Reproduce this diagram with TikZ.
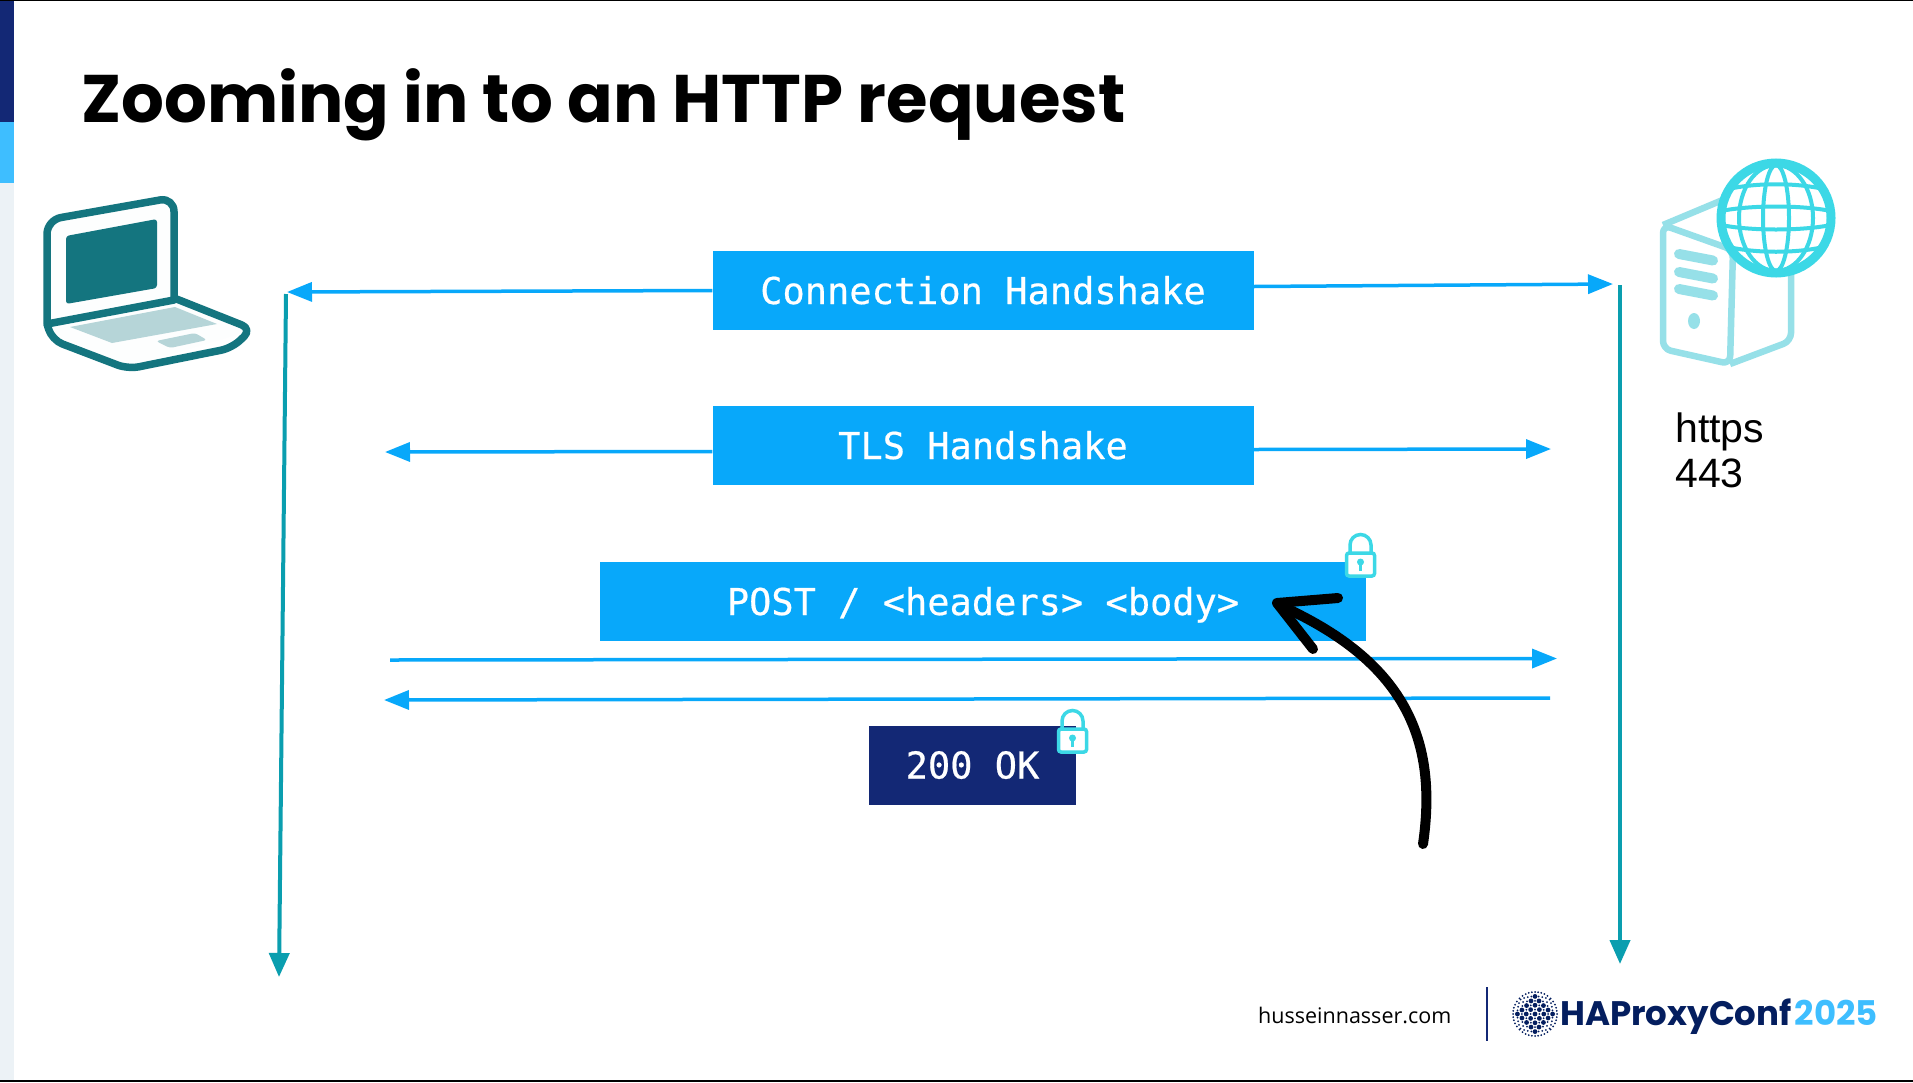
\documentclass[tikz,border=0pt]{standalone}
\usepackage{fontspec}
\usetikzlibrary{arrows.meta}
\setmainfont{Open Sans}
\newfontfamily\titlefont{Poppins}
\newfontfamily\monofont[FakeBold=0.5]{DejaVu Sans Mono}
\newfontfamily\plainfont{Liberation Sans}
\definecolor{hp_navy}{RGB}{19, 40, 117}
\definecolor{hp_dark}{RGB}{4, 30, 95}
\definecolor{hp_sky}{RGB}{62, 190, 255}
\definecolor{hp_pale}{RGB}{236, 242, 246}
\definecolor{hp_blue}{RGB}{8, 168, 250}
\definecolor{hp_teal}{RGB}{10, 158, 175}
\definecolor{hp_laptop}{RGB}{20, 117, 127}
\definecolor{hp_keys}{RGB}{182, 213, 216}
\definecolor{hp_cyan}{RGB}{60, 216, 230}
\definecolor{hp_server}{RGB}{150, 224, 232}
\tikzstyle{box}=[rectangle,fill=hp_blue,text=white,inner sep=0pt,minimum height=79pt,
  text height=27pt,text depth=0pt,font=\monofont\fontsize{37}{40}\selectfont]
\tikzstyle{label}=[anchor=base west,inner sep=0pt]
\tikzstyle{req}=[draw=hp_blue,line width=3.5pt,-{Triangle[length=25pt,width=19pt]}]
\tikzstyle{time}=[draw=hp_teal,line width=4pt,-{Triangle[length=24pt,width=20pt]}]
\tikzstyle{bigarrow}=[draw=black,line width=10pt,line cap=round,line join=round]
\tikzstyle{lockbody}=[draw=hp_cyan,fill=white,line width=3.5pt,rounded corners=2.5pt]
\begin{document}
\begin{tikzpicture}[x=1pt, y=-1pt]
    \useasboundingbox (0, 0) rectangle (1913, 1082);
    \fill [white] (0, 0) rectangle (1913, 1082);
    % slide frame
    \fill [hp_pale] (0, 183) rectangle (14, 1082);
    \fill [hp_navy] (0, 0) rectangle (14, 122);
    \fill [hp_sky] (0, 122) rectangle (14, 183);
    \draw [black, line width=1.5pt] (0, 0.5) -- (1913, 0.5);
    \draw [black, line width=1.5pt] (0, 1081) -- (1913, 1081);
    \node [style=label] (title) at (81, 122) {\titlefont\bfseries\fontsize{67.3}{72}\selectfont Zooming in to an HTTP request};

    % laptop
    \fill [white!97!hp_keys] (47, 324) -- (177, 298) -- (246, 332) -- (130, 366) -- (55, 340) -- cycle;
    \draw [hp_laptop, line width=7.5pt, line join=round, fill=white!97!hp_keys]
      (47, 324) [rounded corners=14pt] -- (47, 220) -- (174, 197.5) [sharp corners] -- (174, 300) -- cycle;
    \draw [hp_laptop, line width=7.5pt, line join=round, rounded corners=11pt]
      (47, 324) -- (52, 340) -- (128, 369) -- (232, 348) -- (252, 329) -- (174, 298);
    \fill [hp_laptop, rounded corners=3pt] (66, 236) -- (157, 219) -- (157, 288) -- (66, 304) -- cycle;
    \fill [hp_keys] (70, 327) -- (175, 307) -- (217, 324) -- (112, 343) -- cycle;
    \fill [hp_keys, rounded corners=3pt] (156, 341) -- (195, 333) -- (207, 340) -- (170, 348) -- cycle;

    % server
    \draw [hp_server, line width=6.5pt, line join=round, rounded corners=8pt]
      (1663, 225) -- (1663, 349) -- (1730, 364) -- (1733, 250) -- cycle;
    \draw [hp_server, line width=6.5pt, line join=round, rounded corners=8pt]
      (1730, 364) -- (1791, 341) -- (1791, 270);
    \draw [hp_server, line width=6.5pt, line join=round] (1663, 225) -- (1725, 199);
    \foreach \ventY in {254, 272, 289}
      \draw [hp_server, line width=10pt, line cap=round] (1679, \ventY) -- (1713, \ventY + 6.5);
    \fill [hp_server] (1694, 321) ellipse (6 and 8);

    % globe
    \begin{scope}[shift={(1776, 218)}]
      \fill [white] (0, 0) circle (58);
      \draw [hp_cyan, line width=4pt] (0, 0) ellipse (13 and 53);
      \draw [hp_cyan, line width=4pt] (0, 0) ellipse (37 and 53);
      \begin{scope}
        \clip (0, 0) circle (54);
        \foreach \latA/\latB in {-27/-36, -7/-13, 7/13, 27/36}
          \draw [hp_cyan, line width=4pt] (-55, \latA) .. controls (-25, \latB) and (25, \latB) .. (55, \latA);
      \end{scope}
      \draw [hp_cyan, line width=9pt] (0, 0) circle (55);
    \end{scope}

    % boxes
    \node [style=box, minimum width=541pt] (conn) at (983, 290.5) {Connection Handshake};
    \node [style=box, minimum width=541pt] (tls) at (983, 445.5) {TLS Handshake};
    \node [style=box, minimum width=766pt] (post) at (983, 601.5) {POST / <headers> <body>};
    \node [style=box, minimum width=207pt, fill=hp_navy] (ok) at (972.5, 765) {200 OK};

    % ends of the arrows
    \coordinate (connL) at (287, 292);
    \coordinate (connR) at (1613, 284);
    \coordinate (tlsL) at (385, 452);
    \coordinate (tlsR) at (1551, 449);
    \coordinate (postA) at (390, 660);
    \coordinate (postB) at (1557, 658.5);
    \coordinate (okA) at (1550, 698);
    \coordinate (okB) at (384, 700);
    \coordinate (clientA) at (286, 294);
    \coordinate (clientB) at (279, 977);
    \coordinate (serverA) at (1620, 285);
    \coordinate (serverB) at (1620, 964);

    \draw [style=req] (conn.west) to (connL);
    \draw [style=req] ([yshift=4pt]conn.east) to (connR);
    \draw [style=req] ([yshift=-6pt]tls.west) to (tlsL);
    \draw [style=req] ([yshift=-4pt]tls.east) to (tlsR);
    \draw [style=req] (postA) to (postB);
    \draw [style=req] (okA) to (okB);
    \draw [style=time] (clientA) to (clientB);
    \draw [style=time] (serverA) to (serverB);

    % locks
    \foreach \lockX/\lockY in {1360.5/533, 1072.5/709} {
      \begin{scope}[shift={(\lockX, \lockY)}]
        \draw [hp_cyan, line width=3.5pt] (-10.5, 22) -- (-10.5, 12) arc (180:360:10.5 and 10.5) -- (10.5, 22);
        \draw [style=lockbody] (-14, 20) rectangle (14, 43);
        \fill [hp_cyan] (0, 29) circle (3.5);
        \draw [hp_cyan, line width=3pt] (0, 29) -- (0, 38);
      \end{scope}
    }

    % big black arrow
    \coordinate (bigTip) at (1277, 603);
    \coordinate (bigStart) at (1423, 844);
    \coordinate (barbA) at (1338, 598);
    \coordinate (barbB) at (1313, 649);
    \draw [style=bigarrow] (bigStart) .. controls (1438, 740) and (1405, 665) .. (1290, 610);
    \draw [style=bigarrow] (barbA) -- (bigTip) -- (barbB);

    % texts
    \node [style=label] (https) at (1675, 442) {\plainfont\fontsize{41}{44}\selectfont https};
    \node [style=label] (port) at (1675, 487) {\plainfont\fontsize{41}{44}\selectfont 443};
    \node [style=label] (site) at (1258, 1023) {\fontsize{21.5}{24}\selectfont husseinnasser.com};
    \draw [hp_navy, line width=2pt] (1487, 987) -- (1487, 1041);
    \node [style=label] (conf) at (1560, 1025) {\titlefont\bfseries\fontsize{34}{36}\selectfont\textcolor{hp_dark}{HAProxyConf}\hspace{3pt}\textcolor{hp_sky}{2025}};

    % conference mark
    \begin{scope}[shift={(1535, 1014)}]
      \foreach \i in {-5, ..., 5}
        \foreach \j in {-5, ..., 5} {
          \pgfmathsetmacro{\dotX}{22*(\i/5)*sqrt(1-(\j/5)*(\j/5)/2)}
          \pgfmathsetmacro{\dotY}{22*(\j/5)*sqrt(1-(\i/5)*(\i/5)/2)}
          \pgfmathsetmacro{\dotR}{ifthenelse(mod(abs(\i+\j), 2)==0 && abs(\i)+abs(\j)<5, 2.4, 1.0)}
          \fill [hp_dark] (\dotX, \dotY) circle (\dotR);
        }
    \end{scope}
\end{tikzpicture}
\end{document}
